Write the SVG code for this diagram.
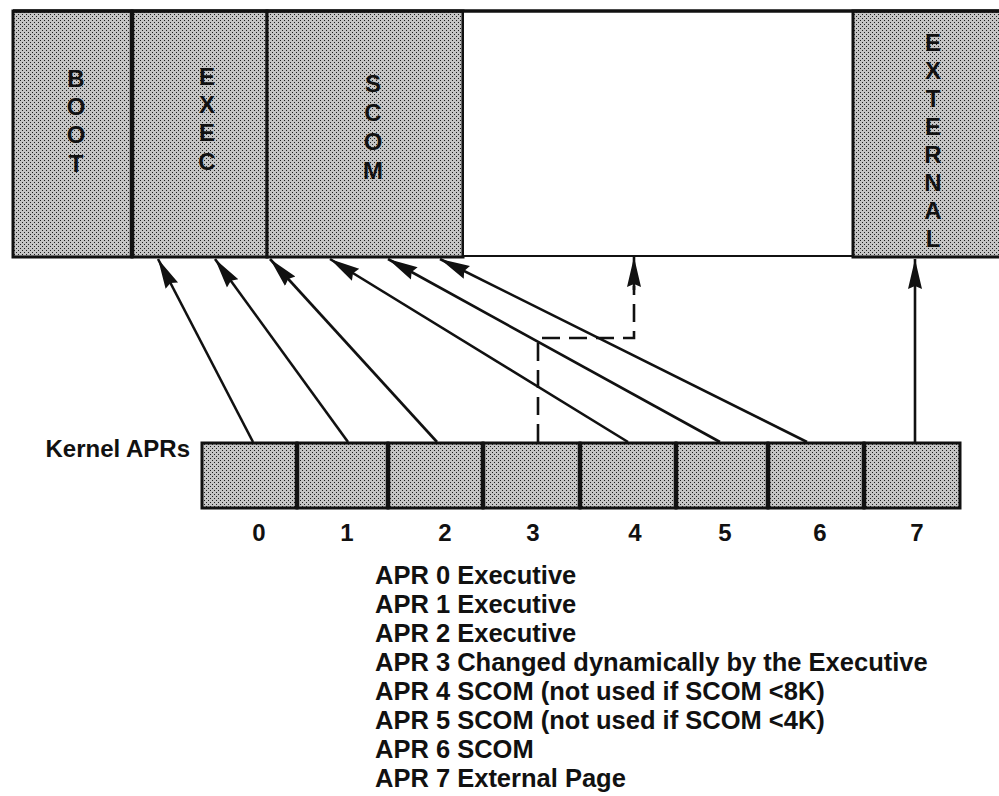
<svg xmlns="http://www.w3.org/2000/svg" width="999" height="796" viewBox="0 0 999 796">
<style>
.lbl{font-family:"Liberation Sans",Arial,sans-serif;font-weight:bold;fill:#111;}
.band{font-size:24px;text-anchor:middle;}
.dig{font-size:24px;text-anchor:middle;}
.leg{font-size:25.5px;}
.conn{stroke:#111;stroke-width:2.6;fill:none;}
.dash{stroke:#111;stroke-width:2.6;fill:none;stroke-dasharray:18 9;}
.box{fill:url(#dots);stroke:#111;stroke-width:3;}
</style>
<defs>
<pattern id="dots" width="4" height="4" patternUnits="userSpaceOnUse">
<rect width="4" height="4" fill="#c4c4c4"/>
<rect x="0" y="0" width="1" height="1" fill="#1e1e1e"/>
<rect x="2" y="2" width="1" height="1" fill="#1e1e1e"/>
</pattern>
<marker id="ah" markerUnits="userSpaceOnUse" markerWidth="32" markerHeight="17" refX="30" refY="8.5" orient="auto">
<path d="M0,1.5 L30,8.5 L0,15.5 L3,8.5 Z" fill="#111"/>
</marker>
</defs>
<rect width="999" height="796" fill="#fff"/>

<g id="memory">
<g id="boot">
<rect x="13" y="11" width="119" height="246" class="box" stroke-width="2"/>
<text class="lbl band"><tspan x="76" y="87">B</tspan><tspan x="76" y="115">O</tspan><tspan x="76" y="143">O</tspan><tspan x="76" y="172">T</tspan></text>
</g>
<g id="exec">
<rect x="132" y="11" width="135" height="246" class="box"/>
<text class="lbl band"><tspan x="207" y="85">E</tspan><tspan x="207" y="113">X</tspan><tspan x="207" y="141">E</tspan><tspan x="207" y="170">C</tspan></text>
</g>
<g id="scom">
<rect x="267" y="11" width="196" height="246" class="box"/>
<text class="lbl band"><tspan x="373" y="92">S</tspan><tspan x="373" y="121">C</tspan><tspan x="373" y="150">O</tspan><tspan x="373" y="179">M</tspan></text>
</g>
<g id="free">
<rect x="463" y="11" width="390" height="245" fill="#fff" stroke="#111" stroke-width="2"/>
</g>
<g id="external">
<rect x="853" y="11" width="150" height="246" class="box"/>
<text class="lbl band"><tspan x="933" y="51">E</tspan><tspan x="933" y="79">X</tspan><tspan x="933" y="107">T</tspan><tspan x="933" y="135">E</tspan><tspan x="933" y="163">R</tspan><tspan x="933" y="191">N</tspan><tspan x="933" y="219">A</tspan><tspan x="933" y="247">L</tspan></text>
</g>
<line x1="13" y1="11" x2="999" y2="11" stroke="#111" stroke-width="3.5"/>
<line x1="132" y1="11" x2="132" y2="257" stroke="#111" stroke-width="4.5"/>
</g>

<g id="aprs">
<text class="lbl" x="190" y="457" font-size="24" text-anchor="end">Kernel APRs</text>
<g id="apr0"><rect x="202" y="443" width="95" height="65" class="box"/><text class="lbl dig" x="259" y="541">0</text></g>
<g id="apr1"><rect x="297" y="443" width="91" height="65" class="box"/><text class="lbl dig" x="347" y="541">1</text></g>
<g id="apr2"><rect x="388" y="443" width="95" height="65" class="box"/><text class="lbl dig" x="445" y="541">2</text></g>
<g id="apr3"><rect x="483" y="443" width="97" height="65" class="box"/><text class="lbl dig" x="533" y="541">3</text></g>
<g id="apr4"><rect x="580" y="443" width="96" height="65" class="box"/><text class="lbl dig" x="635" y="541">4</text></g>
<g id="apr5"><rect x="676" y="443" width="92" height="65" class="box"/><text class="lbl dig" x="725" y="541">5</text></g>
<g id="apr6"><rect x="768" y="443" width="96" height="65" class="box"/><text class="lbl dig" x="820" y="541">6</text></g>
<g id="apr7"><rect x="864" y="443" width="96" height="65" class="box"/><text class="lbl dig" x="917" y="541">7</text></g>
<g stroke="#111" stroke-width="4.5">
<line x1="297" y1="443" x2="297" y2="508"/>
<line x1="388" y1="443" x2="388" y2="508"/>
<line x1="483" y1="443" x2="483" y2="508"/>
<line x1="580" y1="443" x2="580" y2="508"/>
<line x1="676" y1="443" x2="676" y2="508"/>
<line x1="768" y1="443" x2="768" y2="508"/>
<line x1="864" y1="443" x2="864" y2="508"/>
</g>
</g>

<g id="connectors">
<line class="conn" x1="253" y1="442" x2="158" y2="259" marker-end="url(#ah)"/>
<line class="conn" x1="348" y1="442" x2="215" y2="259" marker-end="url(#ah)"/>
<line class="conn" x1="437" y1="442" x2="270" y2="259" marker-end="url(#ah)"/>
<line class="conn" x1="628" y1="442" x2="330" y2="259" marker-end="url(#ah)"/>
<line class="conn" x1="720" y1="442" x2="388" y2="259" marker-end="url(#ah)"/>
<line class="conn" x1="807" y1="442" x2="440" y2="259" marker-end="url(#ah)"/>
<line class="conn" x1="915" y1="442" x2="915" y2="259" marker-end="url(#ah)"/>
<polyline class="dash" points="538,442 538,338 634,338 634,286"/>
<line class="conn" x1="634" y1="290" x2="634" y2="257" marker-end="url(#ah)"/>
</g>

<g id="legend" class="lbl leg">
<text x="375" y="584">APR 0 Executive</text>
<text x="375" y="613">APR 1 Executive</text>
<text x="375" y="642">APR 2 Executive</text>
<text x="375" y="671">APR 3 Changed dynamically by the Executive</text>
<text x="375" y="700">APR 4 SCOM (not used if SCOM &lt;8K)</text>
<text x="375" y="729">APR 5 SCOM (not used if SCOM &lt;4K)</text>
<text x="375" y="758">APR 6 SCOM</text>
<text x="375" y="787">APR 7 External Page</text>
</g>
</svg>
